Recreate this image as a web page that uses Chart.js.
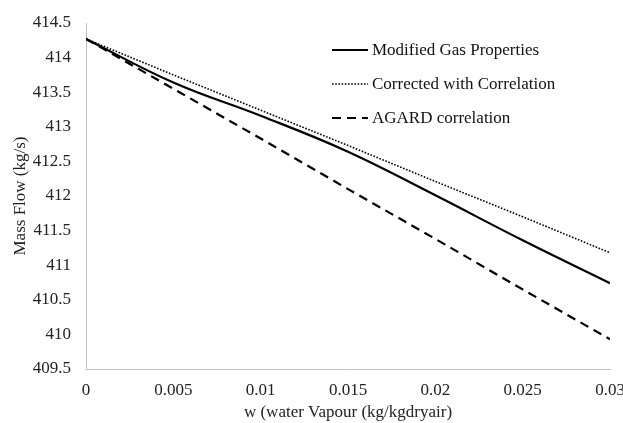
<!DOCTYPE html>
<html>
<head>
<meta charset="utf-8">
<script src="https://cdn.jsdelivr.net/npm/chart.js@4/dist/chart.umd.min.js"></script>
<style>
html,body{margin:0;padding:0;background:#fff;}
#wrap{width:623px;height:423px;}
</style>
</head>
<body>
<div id="wrap"><canvas id="c" width="623" height="423"></canvas></div>
<script>
const wValues = [0, 0.005, 0.01, 0.015, 0.02, 0.025, 0.03];
const modifiedGas = [414.27, 413.64, 413.16, 412.64, 412.01, 411.36, 410.74];
const correctedCorr = [414.27, 413.75, 413.24, 412.73, 412.21, 411.70, 411.18];
const agardCorr = [414.27, 413.55, 412.83, 412.10, 411.38, 410.65, 409.93];
const seriesNames = ['Modified Gas Properties', 'Corrected with Correlation', 'AGARD correlation'];
const xTitle = 'w (water Vapour (kg/kgdryair)';
const yTitle = 'Mass Flow (kg/s)';

const FONT = "'Liberation Serif', 'Times New Roman', serif";
const pts = arr => arr.map((v, i) => ({x: wValues[i], y: v}));

const legendPlugin = {
  id: 'customLegend',
  afterDraw(chart) {
    const ctx = chart.ctx;
    const items = chart.data.datasets;
    const x0 = 332, x1 = 368, tx = 372;
    const ys = [50, 84, 118];
    ctx.save();
    items.forEach((ds, i) => {
      ctx.beginPath();
      ctx.strokeStyle = ds.borderColor;
      ctx.lineWidth = ds.borderWidth;
      ctx.setLineDash(ds.borderDash || []);
      ctx.moveTo(x0, ys[i]);
      ctx.lineTo(x1, ys[i]);
      ctx.stroke();
      ctx.setLineDash([]);
      ctx.fillStyle = '#111';
      ctx.font = '17px ' + FONT;
      ctx.textBaseline = 'middle';
      ctx.textAlign = 'left';
      ctx.fillText(ds.label, tx, ys[i] + 1);
    });
    ctx.restore();
  }
};

const fmt = v => String(Number(Number(v).toFixed(4)));

new Chart(document.getElementById('c'), {
  type: 'line',
  data: {
    datasets: [
      {label: seriesNames[0], data: pts(modifiedGas), borderColor: '#000', borderWidth: 2.2, pointRadius: 0, tension: 0.4, fill: false},
      {label: seriesNames[1], data: pts(correctedCorr), borderColor: '#000', borderWidth: 1.6, borderDash: [1.6, 1.6], pointRadius: 0, tension: 0, fill: false},
      {label: seriesNames[2], data: pts(agardCorr), borderColor: '#000', borderWidth: 2.2, borderDash: [9, 6], pointRadius: 0, tension: 0, fill: false}
    ]
  },
  options: {
    responsive: false,
    animation: false,
    layout: {padding: {top: 23, right: 13, left: 10, bottom: 0}},
    plugins: {legend: {display: false}, tooltip: {enabled: false}},
    scales: {
      x: {
        type: 'linear', min: 0, max: 0.03,
        ticks: {stepSize: 0.005, callback: v => fmt(v), color: '#222', font: {family: FONT, size: 17}, padding: 3, maxRotation: 0},
        grid: {display: false},
        border: {display: true, color: '#bfbfbf', width: 1},
        title: {display: true, text: xTitle, color: '#222', font: {family: FONT, size: 17}, padding: {top: 2, bottom: 0}},
        afterFit: s => { s.height = 54; s.paddingRight = 0; }
      },
      y: {
        type: 'linear', min: 409.5, max: 414.5,
        ticks: {stepSize: 0.5, callback: v => fmt(v), color: '#222', font: {family: FONT, size: 17}, padding: 7},
        grid: {display: false},
        border: {display: true, color: '#bfbfbf', width: 1},
        title: {display: true, text: yTitle, color: '#222', font: {family: FONT, size: 17}, padding: {top: 0, bottom: 2}},
        afterFit: s => { s.width = 76; }
      }
    }
  },
  plugins: [legendPlugin]
});
</script>
</body>
</html>
